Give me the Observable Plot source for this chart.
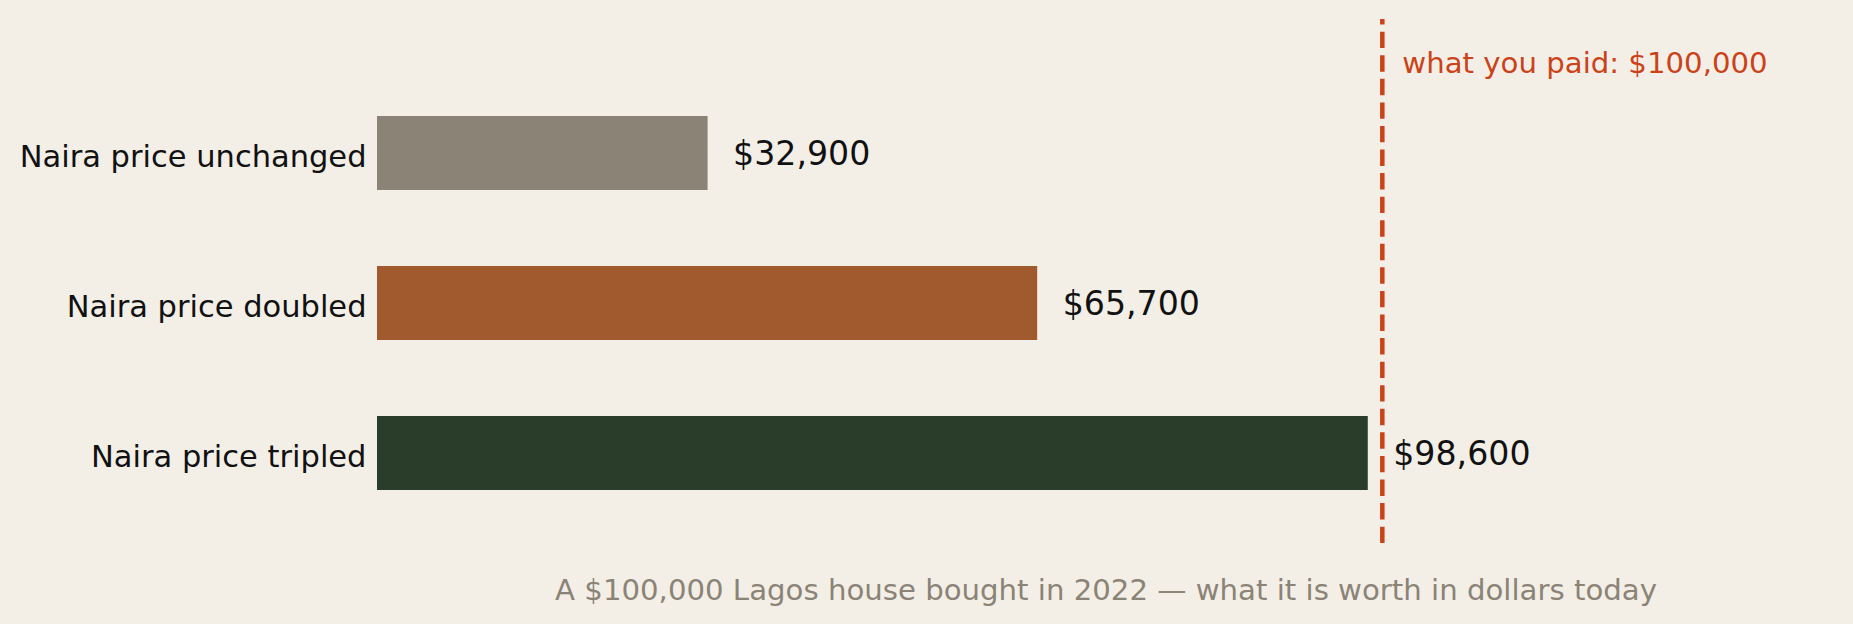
<!DOCTYPE html>
<html>
<head>
<meta charset="utf-8">
<script src="https://cdn.jsdelivr.net/npm/d3@7"></script>
<script src="https://cdn.jsdelivr.net/npm/@observablehq/plot@0.6"></script>
<style>
  html, body { margin: 0; padding: 0; background: #f3efe7; }
  #chart svg { display: block; }
</style>
</head>
<body>
<div id="chart"></div>
<script>
const categories = ["Naira price unchanged", "Naira price doubled", "Naira price tripled"];
const values = [32900, 65700, 98600];
const barColors = ["#8b8376", "#a05a2d", "#2a3c2a"];
const paid = 100000;
const paidLabel = "what you paid: $100,000";
const caption = "A $100,000 Lagos house bought in 2022 \u2014 what it is worth in dollars today";

const data = categories.map((c, i) => ({category: c, value: values[i]}));
const fmt = d3.format("$,.0f");

const chart = Plot.plot({
  width: 1853,
  height: 624,
  marginLeft: 377,
  marginRight: 19,
  marginTop: 19,
  marginBottom: 81,
  style: {background: "#f3efe7", fontFamily: "DejaVu Sans", color: "#111111"},
  x: {domain: [0, 145000], axis: null},
  y: {domain: categories, paddingInner: 0.507, paddingOuter: 0.5, align: 0.647, label: null},
  color: {domain: categories, range: barColors},
  marks: [
    Plot.barX(data, {x: "value", y: "category", fill: "category"}),
    Plot.text(data, {x: "value", y: "category", text: d => fmt(d.value), textAnchor: "start", dx: 25, dy: 1, fontSize: 33.2, fill: "#111111"}),
    Plot.ruleX([paid], {stroke: "#cc4218", strokeWidth: 4.5, strokeDasharray: "16.4,7.17", strokeDashoffset: 10.9}),
    Plot.text([paidLabel], {x: paid, frameAnchor: "top", lineAnchor: "middle", dy: 44, dx: 20, textAnchor: "start", fontSize: 29.2, fill: "#cc4218"}),
    Plot.axisY({tickSize: 0, tickPadding: 11, fontSize: 30.5, dy: 4, label: null, color: "#111111"}),
    Plot.text([caption], {frameAnchor: "bottom", lineAnchor: "middle", dy: 47, fontSize: 29.2, fill: "#8b8376"})
  ]
});
document.getElementById("chart").appendChild(chart);
</script>
</body>
</html>
